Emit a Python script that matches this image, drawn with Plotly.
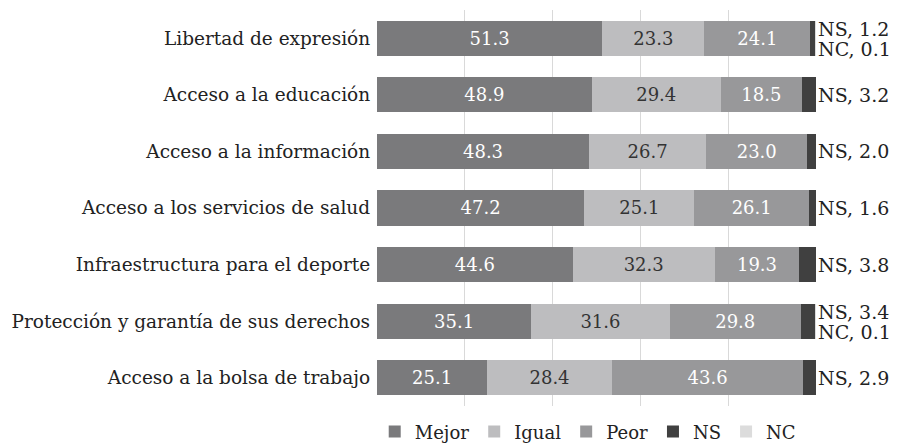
"""Barras apiladas horizontales — percepción de cambios (Mejor/Igual/Peor/NS/NC)."""
import plotly.graph_objects as go

categorias = [
    "Libertad de expresión",
    "Acceso a la educación",
    "Acceso a la información",
    "Acceso a los servicios de salud",
    "Infraestructura para el deporte",
    "Protección y garantía de sus derechos",
    "Acceso a la bolsa de trabajo",
]
mejor = [51.3, 48.9, 48.3, 47.2, 44.6, 35.1, 25.1]
igual = [23.3, 29.4, 26.7, 25.1, 32.3, 31.6, 28.4]
peor = [24.1, 18.5, 23.0, 26.1, 19.3, 29.8, 43.6]
ns = [1.2, 3.2, 2.0, 1.6, 3.8, 3.4, 2.9]
nc = [0.1, 0.0, 0.0, 0.0, 0.0, 0.1, 0.0]

FONT = "DejaVu Serif"
series = [
    ("Mejor", mejor, "#7a7a7c", "white"),
    ("Igual", igual, "#bdbdbf", "#333333"),
    ("Peor", peor, "#98989a", "white"),
    ("NS", ns, "#404040", None),
    ("NC", nc, "#dcdcdc", None),
]

fig = go.Figure()
for nombre, vals, color, tcolor in series:
    fig.add_trace(go.Bar(
        y=categorias, x=vals, name=nombre, orientation="h",
        marker=dict(color=color, line=dict(width=0)),
        text=[f"{v:.1f}" for v in vals] if tcolor else None,
        textposition="inside" if tcolor else "none",
        insidetextanchor="middle",
        textfont=dict(family=FONT, size=18, color=tcolor or "white"),
        hoverinfo="x+name",
    ))

# etiquetas NS / NC fuera de la barra (dos líneas apretadas cuando hay NC)
for cat, a, b in zip(categorias, ns, nc):
    fig.add_annotation(
        x=100, y=cat, text=f"NS, {a:.1f}", showarrow=False, xanchor="left",
        xshift=0, yshift=9 if b else 0,
        font=dict(family=FONT, size=19, color="#222"),
    )
    if b:
        fig.add_annotation(
            x=100, y=cat, text=f"NC, {b:.1f}", showarrow=False, xanchor="left",
            xshift=0, yshift=-11,
            font=dict(family=FONT, size=19, color="#222"),
        )

# la página añade ~8 px de margen al body: se compensa en tamaño y márgenes;
# la leyenda va dentro del área del gráfico (bajo el dominio y) para no mover márgenes
fig.update_layout(
    barmode="stack", bargap=0.38,
    width=897, height=443,
    margin=dict(l=369, r=89, t=2, b=2),
    plot_bgcolor="white", paper_bgcolor="white",
    font=dict(family=FONT, size=18, color="#222"),
    legend=dict(orientation="h", x=0.48, xanchor="center", y=0.039,
                yanchor="middle", font=dict(size=18), itemwidth=30,
                traceorder="normal"),
)
fig.update_xaxes(range=[0, 100], dtick=20, showticklabels=False,
                 showgrid=True, gridcolor="#d9d9d9", gridwidth=1,
                 zeroline=False, showline=False)
fig.update_yaxes(autorange="reversed", showgrid=False, ticks="",
                 ticksuffix=" ", tickfont=dict(size=18.5), automargin=False,
                 domain=[0.096, 1])

fig.write_html("out.html")
